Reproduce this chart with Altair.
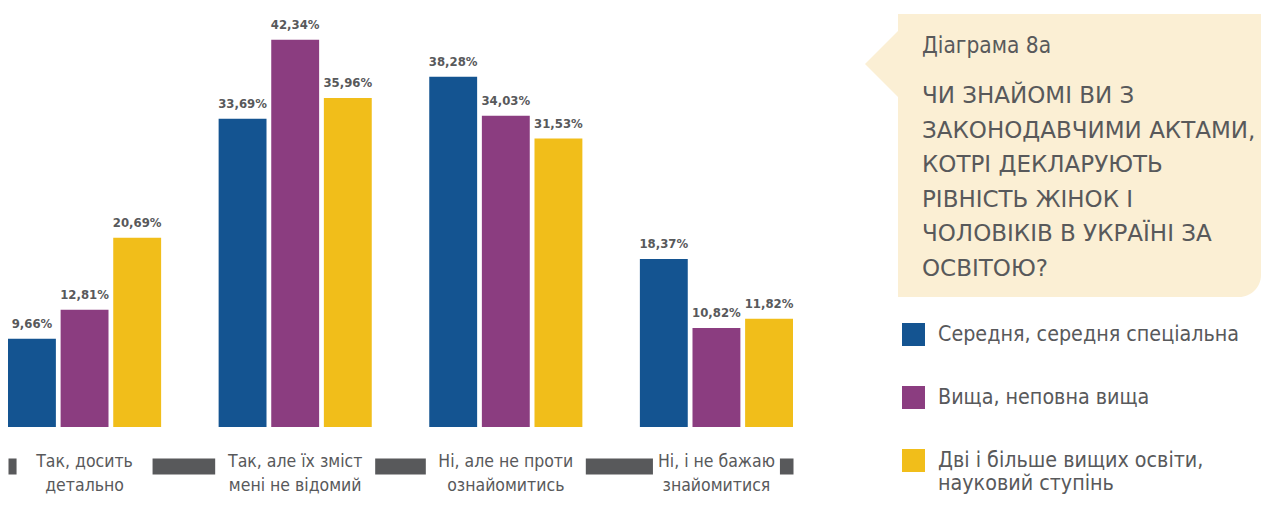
import textwrap
import altair as alt
import pandas as pd

# ---------------- data ----------------
CATEGORIES = [
    "Так, досить детально",
    "Так, але їх зміст мені не відомий",
    "Ні, але не проти ознайомитись",
    "Ні, і не бажаю знайомитися",
]
SERIES = [
    "Середня, середня спеціальна",
    "Вища, неповна вища",
    "Дві і більше вищих освіти, науковий ступінь",
]
SEREDNYA = [9.66, 33.69, 38.28, 18.37]
VYSHCHA = [12.81, 42.34, 34.03, 10.82]
DVI = [20.69, 35.96, 31.53, 11.82]

TITLE = "Діаграма 8а"
QUESTION = [
    "ЧИ ЗНАЙОМІ ВИ З",
    "ЗАКОНОДАВЧИМИ АКТАМИ,",
    "КОТРІ ДЕКЛАРУЮТЬ",
    "РІВНІСТЬ ЖІНОК І",
    "ЧОЛОВІКІВ В УКРАЇНІ ЗА",
    "ОСВІТОЮ?",
]

# ---------------- style ----------------
COLORS = ["#145491", "#8B3D80", "#F1BE1A"]
GRAY = "#58595B"
BEIGE = "#FBEFD4"
FONT = "Liberation Sans Narrow, DejaVu Sans Condensed, sans-serif"
TITLE_FONT = "DejaVu Sans, sans-serif"
GAP_WIDTHS = [136, 160, 160, 127]
W, H = 1253, 489

rows = []
for s, vals in zip(SERIES, [SEREDNYA, VYSHCHA, DVI]):
    for c, v in zip(CATEGORIES, vals):
        rows.append({"category": c, "series": s, "value": v,
                     "label": f"{v:.2f}".replace(".", ",") + "%"})
df = pd.DataFrame(rows)

cat_df = pd.DataFrame({
    "category": CATEGORIES,
    "lines": ["\n".join(textwrap.wrap(c, 17)) for c in CATEGORIES],
    "gap": GAP_WIDTHS,
})

# legend label wrapping
conds = []
for s in SERIES:
    if len(s) > 30:
        parts = textwrap.wrap(s, 26)
        arr = "[" + ",".join("'" + p + "'" for p in parts) + "]"
        conds.append(f"datum.label == '{s}' ? {arr} : ")
label_expr = "".join(conds) + "datum.label"

x_scale = alt.Scale(range=[0, 785], paddingInner=0.273, paddingOuter=0)
x_axis = alt.Axis(domain=True, domainWidth=16, domainColor=GRAY, domainCap="butt",
                  labels=False, ticks=False, grid=False, title=None, offset=-31)
y_scale = alt.Scale(domain=[0, 45.8], range=[419, 0], nice=False, zero=True)

base = alt.Chart(df).encode(
    x=alt.X("category:N", sort=CATEGORIES, scale=x_scale, axis=x_axis),
    xOffset=alt.XOffset("series:N", sort=SERIES, scale=alt.Scale(paddingInner=0.09)),
    y=alt.Y("value:Q", scale=y_scale, axis=None),
)

bars = base.mark_bar().encode(
    color=alt.Color(
        "series:N", sort=SERIES,
        scale=alt.Scale(domain=SERIES, range=COLORS),
        legend=alt.Legend(
            orient="none", legendX=894, legendY=315, direction="vertical",
            title=None, symbolType="square", symbolSize=529, symbolStrokeWidth=0,
            symbolOpacity=1, labelFont=FONT, labelFontSize=21.3, labelColor=GRAY,
            labelOffset=13, rowPadding=40, labelLimit=500, labelExpr=label_expr,
        ),
    )
)

values = base.mark_text(font=FONT, fontSize=13, fontWeight="bold", color=GRAY,
                        baseline="alphabetic", align="center", dy=-11).encode(
    text="label:N"
)

gaps = alt.Chart(cat_df).mark_bar(color="white").encode(
    x=alt.X("category:N", sort=CATEGORIES, scale=x_scale, axis=x_axis),
    y=alt.value(449),
    y2=alt.value(467),
    size=alt.Size("gap:Q", scale=None),
)

cat_labels = alt.Chart(cat_df).mark_text(
    font=FONT, fontSize=17.5, color=GRAY, lineBreak="\n", lineHeight=24,
    baseline="alphabetic", align="center",
).encode(
    x=alt.X("category:N", sort=CATEGORIES, scale=x_scale, axis=x_axis),
    y=alt.value(459),
    text="lines:N",
)

panel_df = pd.DataFrame({"title": [TITLE]})
box = alt.Chart(panel_df).mark_rect(color=BEIGE, cornerRadiusBottomRight=22).encode(
    x=alt.value(890), x2=alt.value(W), y=alt.value(6), y2=alt.value(289)
)
pointer = alt.Chart(panel_df).mark_point(
    shape="M0,-1L-1,0L0,1Z", filled=True, size=4624, color=BEIGE, opacity=1, strokeWidth=0
).encode(x=alt.value(891), y=alt.value(56))

title_txt = alt.Chart(panel_df).mark_text(
    font=FONT, fontSize=22.5, color=GRAY, align="left", baseline="alphabetic"
).encode(x=alt.value(914), y=alt.value(45), text="title:N")

question_txt = alt.Chart(panel_df).mark_text(
    font=TITLE_FONT, fontSize=23, color=GRAY, align="left", baseline="alphabetic",
    lineHeight=34.5,
).encode(x=alt.value(914), y=alt.value(95), text=alt.value(QUESTION))

chart = alt.layer(
    box, pointer, title_txt, question_txt, bars, values, gaps, cat_labels
).properties(
    width=W, height=H, autosize=alt.AutoSizeParams(type="none"), padding=0
).configure_view(stroke=None)

chart.save("out.html", embed_options={"renderer": "svg", "actions": False})
